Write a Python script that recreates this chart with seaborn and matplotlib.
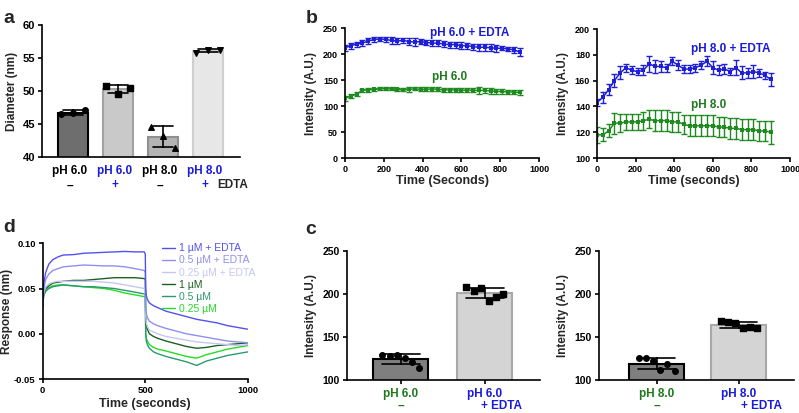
import numpy as np
import pandas as pd
import matplotlib
matplotlib.use('Agg')
import matplotlib.pyplot as plt
import seaborn as sns
from matplotlib.lines import Line2D

sns.set_theme(style='ticks')
plt.rcParams['font.family'] = ['Liberation Sans', 'DejaVu Sans']
plt.rcParams['font.weight'] = 'bold'
plt.rcParams['axes.labelweight'] = 'bold'

BLUE = '#1f1fd6'
GREEN = '#1f8a1f'
TXT_BLUE = '#1a1adb'
TXT_GREEN = '#1e7a1e'

# ---------------- Panel a data ----------------
a_labels = ['pH 6.0', 'pH 6.0', 'pH 8.0', 'pH 8.0']
a_signs = ['–', '+', '–', '+']
a_points = [[46.5, 46.6, 47.1], [50.8, 49.6, 50.4], [44.6, 43.2, 41.4], [55.8, 56.2, 56.2]]
a_yticks = [40, 45, 50, 55, 60]

# ---------------- Panel b data ----------------
b_time = [0, 30, 60, 90, 120, 150, 180, 210, 240, 270, 300, 330, 360, 390, 420, 450,
          480, 510, 540, 570, 600, 630, 660, 690, 720, 750, 780, 810, 840, 870, 900]
b6_edta = [212, 216, 219, 221, 225, 228, 229, 228, 226, 225, 226, 224, 223, 224, 222, 221,
           221, 219, 218, 218, 216, 216, 214, 213, 213, 212, 211, 211, 210, 208, 204]
b6_edta_sd = [6, 6, 5, 5, 6, 5, 4, 5, 6, 6, 5, 6, 7, 4, 5, 6, 5, 6, 6, 6, 7, 6, 6, 7, 7, 7, 7, 4, 4, 6, 7]
b6 = [115, 119, 123, 130, 131, 132, 133, 133, 133, 132, 131, 132, 133, 132, 132, 133,
      132, 131, 131, 131, 130, 131, 130, 130, 130, 129, 128, 128, 127, 127, 126]
b6_sd = [5, 4, 3, 3, 4, 3, 3, 3, 3, 3, 3, 5, 3, 4, 4, 4, 4, 4, 4, 4, 4, 4, 4, 6, 5, 5, 5, 5, 4, 4, 5]
b8_edta = [143, 147, 153, 160, 166, 170, 168, 167, 168, 173, 171, 171, 170, 175, 172, 169,
           169, 170, 172, 175, 170, 168, 169, 167, 170, 166, 166, 167, 166, 164, 161]
b8_edta_sd = [3, 4, 4, 5, 5, 3, 3, 3, 4, 6, 5, 4, 3, 3, 4, 3, 3, 3, 3, 4, 5, 4, 4, 3, 6, 5, 4, 5, 3, 3, 5]
b8 = [118, 118, 121, 127, 127, 128, 128, 128, 129, 130, 129, 129, 129, 128, 128, 126,
      125, 125, 125, 125, 125, 124, 124, 123, 123, 122, 122, 122, 121, 121, 120]
b8_sd = [6, 5, 5, 8, 7, 6, 6, 6, 7, 7, 8, 8, 8, 8, 8, 7, 8, 8, 8, 8, 8, 8, 8, 8, 8, 8, 8, 8, 8, 8, 9]

# ---------------- Panel c data ----------------
c6_points = [[129.5, 128, 128.5, 126, 121, 114], [208, 203, 207, 192, 196, 200]]
c8_points = [[125, 126, 122, 112, 118, 111], [168, 167, 166, 160, 162, 160]]

# ---------------- Panel d data ----------------
d_time = [0, 5, 15, 30, 50, 75, 100, 150, 200, 250, 300, 350, 400, 450, 495, 500,
          502, 505, 510, 520, 540, 560, 600, 650, 700, 750, 800, 850, 900, 950, 1000]
d_series = {
    '1 µM + EDTA': [0.030, 0.055, 0.068, 0.077, 0.082, 0.085, 0.087, 0.0875, 0.089, 0.0895, 0.090,
                    0.0905, 0.091, 0.0905, 0.0905, 0.088, 0.050, 0.042, 0.038, 0.034, 0.031, 0.029,
                    0.025, 0.022, 0.019, 0.016, 0.014, 0.012, 0.009, 0.007, 0.005],
    '0.5 µM + EDTA': [0.030, 0.050, 0.060, 0.066, 0.070, 0.072, 0.074, 0.075, 0.076, 0.0755, 0.075,
                      0.075, 0.074, 0.072, 0.070, 0.068, 0.030, 0.022, 0.018, 0.014, 0.011, 0.009,
                      0.006, 0.003, 0.000, -0.002, -0.004, -0.006, -0.008, -0.009, -0.010],
    '0.25 µM + EDTA': [0.030, 0.045, 0.052, 0.055, 0.057, 0.058, 0.058, 0.058, 0.058, 0.058, 0.057,
                       0.056, 0.054, 0.052, 0.050, 0.049, 0.020, 0.012, 0.008, 0.004, 0.002, 0.000,
                       -0.003, -0.005, -0.007, -0.009, -0.010, -0.011, -0.012, -0.013, -0.012],
    '1 µM': [0.030, 0.045, 0.050, 0.053, 0.056, 0.057, 0.058, 0.059, 0.059, 0.060, 0.061,
             0.062, 0.062, 0.062, 0.061, 0.060, 0.020, 0.010, 0.005, 0.000, -0.003, -0.005,
             -0.008, -0.011, -0.014, -0.016, -0.015, -0.013, -0.012, -0.011, -0.010],
    '0.5 µM': [0.030, 0.042, 0.047, 0.050, 0.052, 0.053, 0.054, 0.053, 0.052, 0.052, 0.051,
               0.050, 0.048, 0.046, 0.044, 0.043, 0.000, -0.008, -0.012, -0.016, -0.020, -0.022,
               -0.025, -0.028, -0.031, -0.035, -0.030, -0.027, -0.024, -0.022, -0.020],
    '0.25 µM': [0.030, 0.044, 0.049, 0.051, 0.053, 0.054, 0.054, 0.053, 0.052, 0.051, 0.050,
                0.048, 0.045, 0.043, 0.041, 0.040, 0.000, -0.005, -0.008, -0.012, -0.015, -0.017,
                -0.019, -0.022, -0.025, -0.027, -0.023, -0.020, -0.017, -0.015, -0.013],
}
d_colors = {'1 µM + EDTA': '#5252ef', '0.5 µM + EDTA': '#8f8ff0', '0.25 µM + EDTA': '#c6c6f6',
            '1 µM': '#1d5f22', '0.5 µM': '#2a9a6c', '0.25 µM': '#24dc24'}

fig = plt.figure(figsize=(7.99, 4.13), dpi=100)


def style(ax, lw=1.2):
    for s in ['top', 'right']:
        ax.spines[s].set_visible(False)
    for s in ['left', 'bottom']:
        ax.spines[s].set_linewidth(lw)
        ax.spines[s].set_color('black')
    ax.tick_params(direction='out', length=3, width=lw, colors='black', pad=2)


# ================= Panel a =================
ax = fig.add_axes([0.0526, 0.6199, 0.2478, 0.3196])
dfa = pd.DataFrame([(i, v) for i, pts in enumerate(a_points) for v in pts], columns=['grp', 'val'])
a_fill = ['#6e6e6e', '#c9c9c9', '#b3b3b3', '#e7e7e7']
a_edge = ['#000000', '#a2a2a2', '#8f8f8f', '#cfcfcf']
sns.barplot(data=dfa, x='grp', y='val', order=[0, 1, 2, 3], palette=a_fill, hue='grp',
            legend=False, errorbar='sd', capsize=0.45, width=0.66,
            err_kws={'color': 'black', 'linewidth': 1.2}, ax=ax, native_scale=True)
for p, ec in zip(ax.patches, a_edge):
    p.set_edgecolor(ec)
    p.set_linewidth(1.5)
markers = ['o', 's', '^', 'v']
for i, pts in enumerate(a_points):
    offs = np.linspace(-0.27, 0.27, len(pts))
    ax.scatter(i + offs, pts, marker=markers[i], s=16, color='black', zorder=5)
ax.set_ylim(40, 60)
ax.set_yticks(a_yticks)
ax.set_xlim(-0.69, 3.71)
ax.set_xticks([0, 1, 2, 3])
ax.set_xticklabels([])
ax.set_xlabel('')
ax.set_ylabel('Diameter (nm)', fontsize=8.5, labelpad=3)
style(ax)
ax.tick_params(axis='y', labelsize=8)
ax.tick_params(axis='x', length=0)
for lab in ax.get_yticklabels():
    lab.set_fontweight('bold')
tr = ax.get_xaxis_transform()
a_lab_colors = ['black', TXT_BLUE, 'black', TXT_BLUE]
for i, (lab, sg) in enumerate(zip(a_labels, a_signs)):
    ax.text(i - 0.08, -0.06, lab, transform=tr, ha='center', va='top', fontsize=8.5,
            fontweight='bold', color=a_lab_colors[i])
    ax.text(i - 0.08, -0.17, sg, transform=tr, ha='center', va='top', fontsize=8.5,
            fontweight='bold', color=a_lab_colors[i] if sg == '+' else 'black')
ax.text(3.55, -0.17, 'EDTA', transform=tr, ha='center', va='top', fontsize=8.5, fontweight='bold')

# ================= Panel b =================
def bpanel(rect, m1, s1, m2, s2, ylim, yticks, xlabel, lab1, lab2, pos1, pos2):
    ax = fig.add_axes(rect)
    for m, s, c in [(m1, s1, BLUE), (m2, s2, GREEN)]:
        ax.errorbar(b_time, m, yerr=s, fmt='none', ecolor=c, elinewidth=1.0, capsize=2.2,
                    capthick=1.0)
        sns.lineplot(x=b_time, y=m, color=c, linewidth=1.1, marker='s', markersize=2.5,
                     markeredgewidth=0, ax=ax)
    ax.set_xlim(0, 1000)
    ax.set_xticks([0, 200, 400, 600, 800, 1000])
    ax.set_ylim(*ylim)
    ax.set_yticks(yticks)
    ax.set_xlabel(xlabel, fontsize=9, labelpad=1)
    ax.set_ylabel('Intensity (A.U.)', fontsize=8.5, labelpad=4)
    style(ax)
    ax.tick_params(labelsize=6.5)
    for lab in ax.get_xticklabels() + ax.get_yticklabels():
        lab.set_fontweight('bold')
    ax.text(*pos1, lab1, transform=ax.transAxes, color=TXT_BLUE, fontsize=8.5, fontweight='bold')
    ax.text(*pos2, lab2, transform=ax.transAxes, color=TXT_GREEN, fontsize=8.5, fontweight='bold')
    return ax


bpanel([0.4318, 0.6174, 0.2428, 0.3148], b6_edta, b6_edta_sd, b6, b6_sd, (0, 250),
       [0, 50, 100, 150, 200, 250], 'Time (Seconds)', 'pH 6.0 + EDTA', 'pH 6.0',
       (0.44, 0.94), (0.45, 0.60))
bpanel([0.7472, 0.6174, 0.2416, 0.3123], b8_edta, b8_edta_sd, b8, b8_sd, (100, 200),
       [100, 120, 140, 160, 180, 200], 'Time (seconds)', 'pH 8.0 + EDTA', 'pH 8.0',
       (0.485, 0.82), (0.485, 0.39))

# ================= Panel c =================
def cpanel(rect, pts, labels, xlim, width, edta_off):
    ax = fig.add_axes(rect)
    df = pd.DataFrame([(i, v) for i, p in enumerate(pts) for v in p], columns=['grp', 'val'])
    sns.barplot(data=df, x='grp', y='val', hue='grp', palette=['#7f7f7f', '#d4d4d4'],
                legend=False, errorbar='sd', capsize=0.45, width=width,
                err_kws={'color': 'black', 'linewidth': 1.2}, ax=ax, native_scale=True)
    for p, ec in zip(ax.patches, ['#000000', '#a8a8a8']):
        p.set_edgecolor(ec)
        p.set_linewidth(1.5)
    for i, p in enumerate(pts):
        offs = np.linspace(-0.22, 0.22, len(p))
        ax.scatter(i + offs, p, marker='o' if i == 0 else 's', s=16, color='black', zorder=5)
    ax.set_ylim(100, 250)
    ax.set_yticks([100, 150, 200, 250])
    ax.set_xlim(*xlim)
    ax.set_xticks([0, 1])
    ax.set_xticklabels([])
    ax.set_xlabel('')
    ax.set_ylabel('Intensity (A.U.)', fontsize=8.5, labelpad=4)
    style(ax)
    ax.tick_params(axis='y', labelsize=7.5)
    for lab in ax.get_yticklabels():
        lab.set_fontweight('bold')
    tr = ax.get_xaxis_transform()
    ax.text(0, -0.105, labels, transform=tr, ha='center', va='center', fontsize=8.5,
            fontweight='bold', color=TXT_GREEN)
    ax.text(0, -0.2, '–', transform=tr, ha='center', va='center', fontsize=8.5,
            fontweight='bold', color=TXT_GREEN)
    ax.text(1, -0.105, labels, transform=tr, ha='center', va='center', fontsize=8.5,
            fontweight='bold', color=TXT_BLUE)
    ax.text(1 + edta_off, -0.2, '+ EDTA', transform=tr, ha='center', va='center', fontsize=8.5,
            fontweight='bold', color=TXT_BLUE)
    return ax


cpanel([0.4339, 0.0799, 0.2419, 0.3131], c6_points, 'pH 6.0', (-0.646, 1.655), 0.655, 0.2)
cpanel([0.7497, 0.0799, 0.2441, 0.3131], c8_points, 'pH 8.0', (-0.70, 1.67), 0.67, 0.27)

# ================= Panel d =================
ax = fig.add_axes([0.0534, 0.0823, 0.2569, 0.3286])
dfd = pd.DataFrame([(t, v, k) for k, vals in d_series.items() for t, v in zip(d_time, vals)],
                   columns=['time', 'resp', 'conc'])
order = list(d_series.keys())
sns.lineplot(data=dfd, x='time', y='resp', hue='conc', hue_order=order[::-1], palette=d_colors,
             linewidth=1.0, legend=False, ax=ax)
ax.set_xlim(0, 1000)
ax.set_xticks([0, 500, 1000])
ax.set_ylim(-0.05, 0.10)
ax.set_yticks([-0.05, 0.0, 0.05, 0.10])
ax.set_yticklabels(['-0.05', '0.00', '0.05', '0.10'])
ax.set_xlabel('Time (seconds)', fontsize=9, labelpad=2)
ax.set_ylabel('Response (nm)', fontsize=8.5, labelpad=1)
style(ax)
ax.tick_params(labelsize=6.8)
for lab in ax.get_xticklabels() + ax.get_yticklabels():
    lab.set_fontweight('bold')
handles = [Line2D([0], [0], color=d_colors[k], lw=1.0) for k in order]
leg = ax.legend(handles, order, loc='upper left', bbox_to_anchor=(0.56, 1.03), frameon=False,
                fontsize=7.5, handlelength=1.3, handletextpad=0.4, labelspacing=0.2,
                borderaxespad=0)
for txt, k in zip(leg.get_texts(), order):
    txt.set_color(d_colors[k])
    txt.set_fontweight('normal')

# ================= Panel letters =================
for ch, x, y in [('a', 0.004, 0.975), ('b', 0.382, 0.975), ('d', 0.004, 0.47), ('c', 0.382, 0.465)]:
    fig.text(x, y, ch, fontsize=14, fontweight='bold', va='top', ha='left')

fig.savefig('out.png', dpi=100)
